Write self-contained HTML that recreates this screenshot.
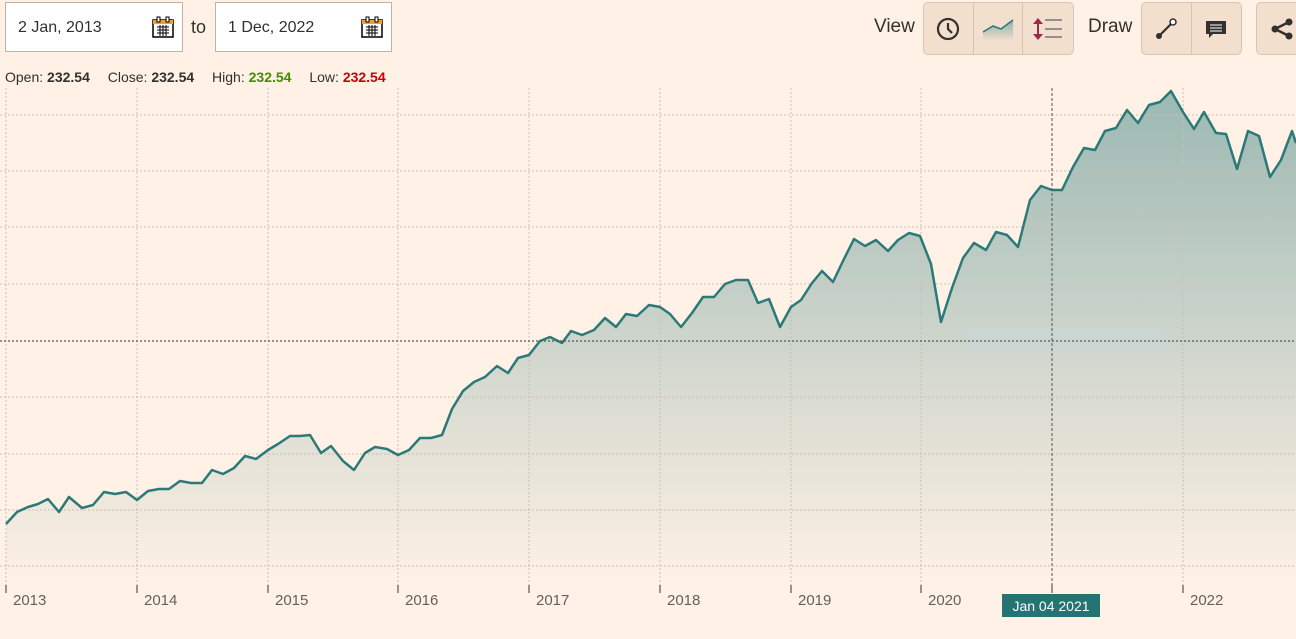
<!DOCTYPE html>
<html><head><meta charset="utf-8"><style>
body{margin:0;width:1296px;height:639px;background:#fff1e5;font-family:"Liberation Sans",sans-serif;position:relative;overflow:hidden;color:#33302e}
.box{position:absolute;top:2px;height:50px;background:#fff;border:1px solid #c0b3a8;box-sizing:border-box;font-size:16px;line-height:50px;padding-left:12px}
.cal{position:absolute;right:8px;top:13px;width:22px;height:22px}
.grp{position:absolute;top:2px;height:53px;background:#f2dfce;border:1px solid #d6c5b6;border-radius:5px;box-sizing:border-box;display:flex}
.grp div{width:50px;height:100%;border-right:1px solid #d6c5b6;box-sizing:border-box;display:flex;align-items:center;justify-content:center}
.grp div:last-child{border-right:none}
.lbl{position:absolute;top:16px;font-size:19px}
.info{position:absolute;top:69px;left:5px;font-size:14px}
.info b{margin-right:14px}
.yr{position:absolute;top:592px;font-size:15px;color:#66605c}
</style></head><body>
<div class="box" style="left:5px;width:178px">2 Jan, 2013<svg class="cal" viewBox="0 0 22 22"><rect x="1" y="4" width="20" height="17" fill="#fff" stroke="#000" stroke-width="1.5"/><rect x="1" y="4" width="20" height="4" fill="#f0a030"/><path d="M5 11h12M5 14h12M5 17h12M8 9v11M11 9v11M14 9v11" stroke="#000"/><rect x="5" y="1" width="3" height="5" fill="#fff" stroke="#000"/><rect x="14" y="1" width="3" height="5" fill="#fff" stroke="#000"/></svg></div>
<div style="position:absolute;left:191px;top:17px;font-size:18px">to</div>
<div class="box" style="left:215px;width:177px">1 Dec, 2022<svg class="cal" viewBox="0 0 22 22"><rect x="1" y="4" width="20" height="17" fill="#fff" stroke="#000" stroke-width="1.5"/><rect x="1" y="4" width="20" height="4" fill="#f0a030"/><path d="M5 11h12M5 14h12M5 17h12M8 9v11M11 9v11M14 9v11" stroke="#000"/><rect x="5" y="1" width="3" height="5" fill="#fff" stroke="#000"/><rect x="14" y="1" width="3" height="5" fill="#fff" stroke="#000"/></svg></div>
<div class="lbl" style="left:874px">View</div>
<div class="grp" style="left:923px;width:151px">
<div><svg width="24" height="24"><circle cx="12" cy="12" r="10" fill="none" stroke="#33302e" stroke-width="2.2"/><path d="M12 6v6l4 4" stroke="#33302e" stroke-width="2.2" fill="none"/></svg></div>
<div><svg width="32" height="24"><defs><linearGradient id="g0" x1="0" y1="0" x2="0" y2="1"><stop offset="0" stop-color="#8fb0aa"/><stop offset="1" stop-color="#f2dfce"/></linearGradient></defs><path d="M1 15L11 9L19 12L31 3V24H1Z" fill="url(#g0)"/><path d="M1 15L11 9L19 12L31 3" stroke="#2b7a78" stroke-width="1.5" fill="none"/></svg></div>
<div><svg width="32" height="26"><path d="M6 3v20" stroke="#a0294a" stroke-width="2"/><path d="M1 8L6 2L11 8ZM1 18L6 24L11 18Z" fill="#a0294a"/><path d="M13 4h17M13 13h17M13 21h17" stroke="#777" stroke-width="1.5"/></svg></div></div>
<div class="lbl" style="left:1088px">Draw</div>
<div class="grp" style="left:1141px;width:101px">
<div><svg width="24" height="24"><path d="M5 19L18 6" stroke="#33302e" stroke-width="2.2"/><circle cx="5" cy="19" r="3" fill="#33302e"/><circle cx="19" cy="5" r="3" fill="#fff" stroke="#33302e" stroke-width="1.5"/></svg></div>
<div><svg width="24" height="24"><path d="M2 4h20v13H9l-4 4v-4H2Z" fill="#33302e"/><path d="M6 8h12M6 11h12M6 14h12" stroke="#fff" stroke-width="1"/></svg></div></div>
<div class="grp" style="left:1256px;width:60px"><div style="width:50px"><svg width="24" height="24"><path d="M5 12L19 5M5 12L19 19" stroke="#33302e" stroke-width="2.5"/><circle cx="5" cy="12" r="3.5" fill="#33302e"/><circle cx="19" cy="5" r="3.5" fill="#33302e"/><circle cx="19" cy="19" r="3.5" fill="#33302e"/></svg></div></div>
<div class="info">Open: <b>232.54</b> Close: <b>232.54</b> High: <b style="color:#458b00">232.54</b> Low: <b style="color:#cc0000">232.54</b></div>
<svg style="position:absolute;left:0;top:0" width="1296" height="639">
<defs><linearGradient id="ar" x1="0" y1="88" x2="0" y2="585" gradientUnits="userSpaceOnUse"><stop offset="0" stop-color="#9bb8b2"/><stop offset="1" stop-color="#fff1e5"/></linearGradient></defs>
<path id="a" fill="url(#ar)" d="M6 585L6 524L17 512L28 507L38 504L48 499L59 512L69 497L82 508L93 505L104 492L115 494L126 492L137 500L148 491L159 489L169 489L180 481L191 483L202 483L212 470L223 474L234 468L245 456L256 459L268 450L278 444L290 436L300 436L310 435L321 453L331 446L343 461L354 470L365 453L375 447L387 449L398 455L409 450L420 438L431 438L442 435L452 409L463 391L474 382L485 377L497 366L508 373L518 358L529 355L540 341L550 337L562 343L571 331L582 335L594 330L605 318L616 327L626 314L637 316L649 305L660 307L670 314L681 327L692 313L703 297L714 297L725 284L736 280L748 280L758 303L769 299L780 327L791 307L801 300L812 283L822 271L833 282L843 261L854 239L865 246L876 240L888 251L898 240L909 233L920 236L931 264L941 322L952 288L963 258L974 243L986 250L996 232L1007 235L1018 247L1030 200L1041 186L1052 190L1062 190L1073 167L1084 148L1095 150L1105 131L1116 128L1127 110L1138 123L1149 105L1160 102L1171 91L1183 112L1194 129L1204 112L1216 133L1226 134L1237 169L1248 131L1259 136L1270 177L1281 160L1292 131L1296 143L1296 585Z"/>
<g stroke="#cbbfb4" stroke-width="1" stroke-dasharray="2,2">
<path d="M6 88V585M137 88V585M268 88V585M398 88V585M529 88V585M660 88V585M791 88V585M921 88V585M1183 88V585"/>
<path d="M0 115H1296M0 171H1296M0 227H1296M0 284H1296M0 397H1296M0 454H1296M0 510H1296M0 566H1296"/>
</g>
<g stroke="#66605c" stroke-width="1.3"><path d="M6 585v8M137 585v8M268 585v8M398 585v8M529 585v8M660 585v8M791 585v8M921 585v8M1183 585v8M1052 585v8"/></g>
<polyline fill="none" stroke="#2b7a78" stroke-width="2.5" stroke-linejoin="round" points="6,524 17,512 28,507 38,504 48,499 59,512 69,497 82,508 93,505 104,492 115,494 126,492 137,500 148,491 159,489 169,489 180,481 191,483 202,483 212,470 223,474 234,468 245,456 256,459 268,450 278,444 290,436 300,436 310,435 321,453 331,446 343,461 354,470 365,453 375,447 387,449 398,455 409,450 420,438 431,438 442,435 452,409 463,391 474,382 485,377 497,366 508,373 518,358 529,355 540,341 550,337 562,343 571,331 582,335 594,330 605,318 616,327 626,314 637,316 649,305 660,307 670,314 681,327 692,313 703,297 714,297 725,284 736,280 748,280 758,303 769,299 780,327 791,307 801,300 812,283 822,271 833,282 843,261 854,239 865,246 876,240 888,251 898,240 909,233 920,236 931,264 941,322 952,288 963,258 974,243 986,250 996,232 1007,235 1018,247 1030,200 1041,186 1052,190 1062,190 1073,167 1084,148 1095,150 1105,131 1116,128 1127,110 1138,123 1149,105 1160,102 1171,91 1183,112 1194,129 1204,112 1216,133 1226,134 1237,169 1248,131 1259,136 1270,177 1281,160 1292,131 1296,143"/>
<rect x="964" y="328" width="202" height="24" fill="#c8d8d8" opacity="0.5"/>
<path d="M0 341H1296" stroke="#555" stroke-width="1.3" stroke-dasharray="2,2"/>
<path d="M1052 88V585" stroke="#555" stroke-width="1" stroke-dasharray="3,2"/>
<rect x="1002" y="594" width="98" height="23" fill="#267373"/>
<text x="1051" y="611" fill="#fff" font-size="14" text-anchor="middle" font-family="Liberation Sans">Jan 04 2021</text>
</svg>
<div class="yr" style="left:13px">2013</div><div class="yr" style="left:144px">2014</div><div class="yr" style="left:275px">2015</div><div class="yr" style="left:405px">2016</div><div class="yr" style="left:536px">2017</div><div class="yr" style="left:667px">2018</div><div class="yr" style="left:798px">2019</div><div class="yr" style="left:928px">2020</div><div class="yr" style="left:1190px">2022</div>
</body></html>
